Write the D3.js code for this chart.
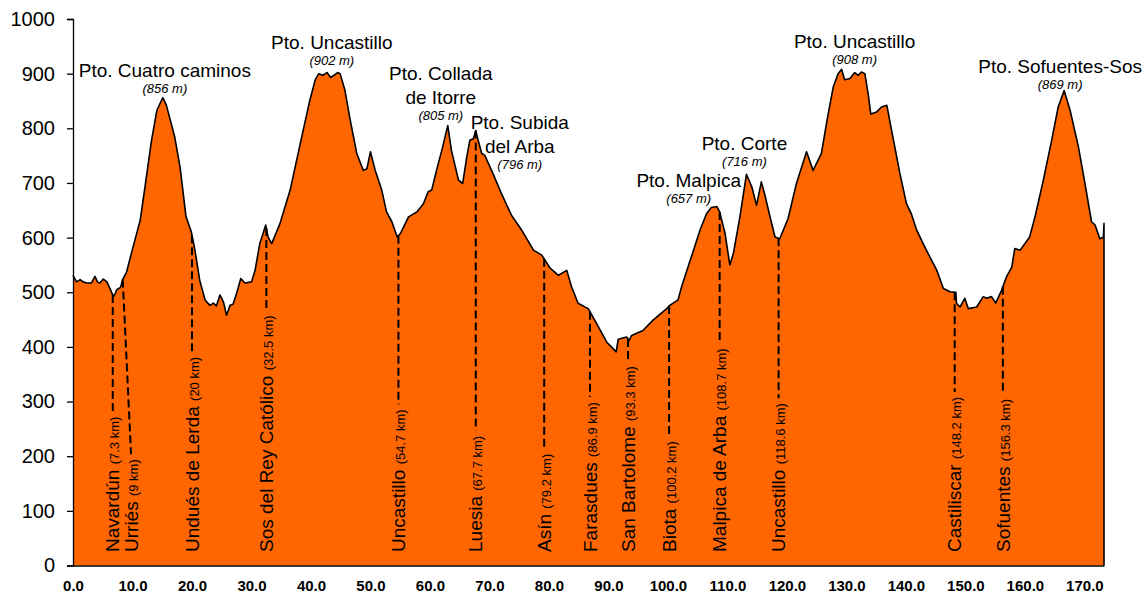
<!DOCTYPE html>
<html>
<head>
<meta charset="utf-8">
<script src="https://cdn.jsdelivr.net/npm/d3@7"></script>
<style>
  html, body { margin: 0; padding: 0; background: #ffffff; }
  svg { display: block; font-family: "Liberation Sans", Arial, sans-serif; }
</style>
</head>
<body>
<svg id="chart" width="1146" height="596"></svg>
<script>
// ---------------- DATA ----------------
const profileKm = [0.0,0.6,1.2,1.7,2.3,3.1,3.7,4.1,4.5,5.1,5.7,6.2,6.8,7.1,7.4,8.0,8.3,9.0,10.1,11.3,12.1,13.2,14.1,15.1,15.7,17.1,18.0,19.0,19.9,20.5,21.3,22.2,23.0,23.6,24.1,24.7,25.3,25.8,26.4,26.9,27.5,28.2,28.9,30.0,30.6,31.4,32.4,32.8,33.4,34.8,36.5,38.2,39.8,40.7,41.3,42.0,42.7,43.3,44.0,44.5,44.9,45.7,46.6,47.7,48.8,49.4,50.0,50.8,51.9,52.7,53.6,54.5,55.0,56.4,57.8,58.9,59.7,60.3,61.1,62.0,63.0,63.6,64.8,65.5,66.2,66.7,67.3,67.7,68.1,68.7,69.2,70.6,72.0,73.7,75.4,77.4,78.8,80.2,81.6,83.0,83.8,84.9,86.6,88.0,89.7,91.3,91.65,93.05,93.5,93.9,95.8,97.5,99.8,100.3,101.7,102.3,103.1,104.3,105.4,106.5,107.3,108.2,108.7,109.6,110.4,111.0,112.1,113.2,114.1,114.9,115.7,116.3,117.1,118.0,118.8,120.2,121.6,123.3,124.4,125.8,126.8,127.8,128.6,129.2,129.7,130.6,131.4,132.0,132.5,133.1,133.7,134.1,135.1,135.9,136.8,137.6,139.0,140.1,140.9,141.8,142.9,144.0,145.2,146.3,147.4,148.4,148.5,149.1,149.9,150.5,151.9,153.0,153.6,154.4,155.1,156.1,156.9,157.8,158.3,159.2,160.0,160.8,161.7,163.1,164.5,165.6,166.6,167.6,169.0,170.1,171.2,171.8,172.6,173.2,173.3];
const profileElev = [531,519,523,519,517,517,529,519,517,524,519,507,492,498,505,509,522,537,583,632,693,778,833,856,842,784,729,638,610,577,522,486,476,480,475,495,482,458,476,478,498,525,517,519,540,589,623,601,589,626,687,772,851,888,900,897,902,893,898,902,900,870,815,754,723,726,757,723,687,647,629,601,607,638,647,662,684,687,723,760,805,760,705,699,748,778,781,796,778,754,751,717,681,641,614,577,568,544,531,540,510,480,470,443,409,391,414,418,412,421,430,449,470,476,486,510,537,577,614,644,655,657,647,608,550,571,638,716,693,659,702,678,641,601,598,635,699,757,723,754,818,876,900,908,889,891,902,897,903,900,860,826,830,839,842,796,717,662,644,614,589,565,540,507,501,500,480,473,489,470,473,492,489,492,480,504,528,546,580,577,589,601,638,705,778,839,869,833,766,699,629,623,598,601,626];

const yTicks = [0,100,200,300,400,500,600,700,800,900,1000];
const xTicks = [0,10,20,30,40,50,60,70,80,90,100,110,120,130,140,150,160,170];

const townNames = ["Navardún","Urriés","Undués de Lerda","Sos del Rey Católico","Uncastillo","Luesia","Asín","Farasdues","San Bartolome","Biota","Malpica de Arba","Uncastillo","Castiliscar","Sofuentes"];
const townKm = [7.3,9,20,32.5,54.7,67.7,79.2,86.9,93.3,100.2,108.7,118.6,148.2,156.3];
const townKmLabels = ["7.3 km","9 km","20 km","32.5 km","54.7 km","67.7 km","79.2 km","86.9 km","93.3 km","100.2 km","108.7 km","118.6 km","148.2 km","156.3 km"];

const peakNames = [["Pto. Cuatro caminos"],["Pto. Uncastillo"],["Pto. Collada","de Itorre"],["Pto. Subida","del Arba"],["Pto. Malpica"],["Pto. Corte"],["Pto. Uncastillo"],["Pto. Sofuentes-Sos"]];
const peakElev = [856,902,805,796,657,716,908,869];
const peakKm = [15.1,43.5,63.0,67.7,108.2,113.2,129.2,166.6];

// ---------------- LAYOUT (not data) ----------------
const peakLabelShift = [[2,-5],[0,-8],[-7,-6],[44,39],[-28,-3],[-2,-8],[13,-5],[-4,-2]];
// leader line horizontal shift at top (profile) and at bottom (label), in px
const townLeaderShift = [[-3.7,-3.7],[-3.8,4.5],[0,0],[0,0],[0,0],[0,0],[0,0],[0,0],[0,0],[0,0],[0,0],[0,0],[0,0],[0,0]];

const W = 1146, H = 596;
const svg = d3.select("#chart");

const x = d3.scaleLinear().domain([0, 173.3]).range([73, 1104]);
const y = d3.scaleLinear().domain([0, 1000]).range([565.5, 19]);

const pts = profileKm.map((k, i) => [k, profileElev[i]]);

// area
const area = d3.area().x(d => x(d[0])).y0(y(0)).y1(d => y(d[1]));
svg.append("path").datum(pts).attr("d", area).attr("fill", "#FF6600");

// profile line with right edge
const line = d3.line().x(d => x(d[0])).y(d => y(d[1]));
const outline = pts.concat([[profileKm[profileKm.length - 1], 0]]);
svg.append("path").datum(outline).attr("d", line)
  .attr("fill", "none").attr("stroke", "#000").attr("stroke-width", 1.6)
  .attr("stroke-linejoin", "round");

// interpolate elevation
function elevAt(k) {
  for (let i = 1; i < profileKm.length; i++) {
    if (profileKm[i] >= k) {
      const t = (k - profileKm[i - 1]) / (profileKm[i] - profileKm[i - 1]);
      return profileElev[i - 1] + t * (profileElev[i] - profileElev[i - 1]);
    }
  }
  return profileElev[profileElev.length - 1];
}

// town labels
const towns = svg.append("g");
townNames.forEach((name, i) => {
  const base = x(townKm[i]);
  const topX = base + townLeaderShift[i][0];
  const botX = base + townLeaderShift[i][1];
  const g = towns.append("g");
  const t = g.append("text")
    .attr("transform", `translate(${botX},552) rotate(-90)`)
    .attr("dy", "0.35em")
    .attr("font-size", 19)
    .attr("fill", "#000");
  t.append("tspan").text(name + " ");
  t.append("tspan").attr("font-size", 13).text("(" + townKmLabels[i] + ")");
  const len = t.node().getComputedTextLength();
  const yBottom = 552 - len - 5;
  g.append("line")
    .attr("x1", topX).attr("x2", botX)
    .attr("y1", y(elevAt(x.invert(topX)))).attr("y2", yBottom)
    .attr("stroke", "#000").attr("stroke-width", 2)
    .attr("stroke-dasharray", "8,4");
});

// peak labels
peakNames.forEach((lines, i) => {
  const cx = x(peakKm[i]) + peakLabelShift[i][0];
  const eb = y(peakElev[i]) + peakLabelShift[i][1];
  svg.append("text")
    .attr("x", cx).attr("y", eb)
    .attr("text-anchor", "middle")
    .attr("font-size", 13).attr("font-style", "italic")
    .text("(" + peakElev[i] + " m)");
  lines.forEach((ln, j) => {
    svg.append("text")
      .attr("x", cx).attr("y", eb - 16 - (lines.length - 1 - j) * 24)
      .attr("text-anchor", "middle")
      .attr("font-size", 19)
      .text(ln);
  });
});

// axes
const yAxis = svg.append("g").attr("transform", "translate(73,0)")
  .call(d3.axisLeft(y).tickValues(yTicks).tickSize(6).tickPadding(12).tickFormat(d3.format("d")));
yAxis.selectAll("text").attr("font-size", 20).attr("font-family", "Liberation Sans, Arial, sans-serif").attr("fill", "#000");
yAxis.selectAll("line, path").attr("stroke", "#000").attr("stroke-width", 1.3);

const xAxis = svg.append("g").attr("transform", "translate(0,565.5)")
  .call(d3.axisBottom(x).tickValues(xTicks).tickSize(0).tickPadding(15).tickFormat(d3.format(".1f")));
xAxis.selectAll("text").attr("font-size", 15).attr("font-weight", "bold").attr("font-family", "Liberation Sans, Arial, sans-serif").attr("fill", "#000");
xAxis.select("path").attr("stroke", "#000").attr("stroke-width", 1.3);
</script>
</body>
</html>
